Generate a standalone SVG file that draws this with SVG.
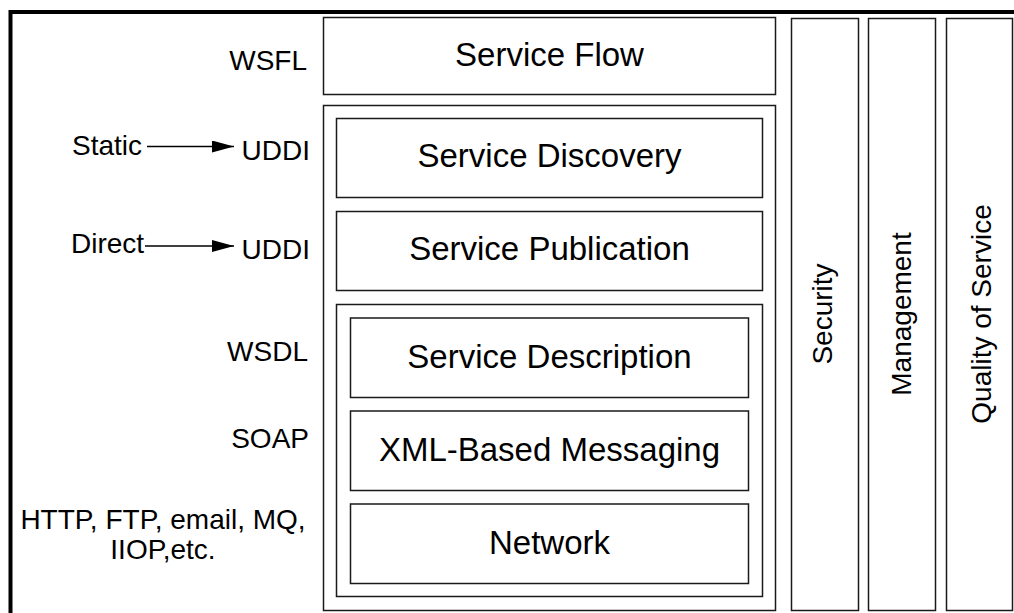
<svg xmlns="http://www.w3.org/2000/svg" width="1014" height="613" viewBox="0 0 1014 613">
<style>
text{font-family:"Liberation Sans",Arial,sans-serif;fill:#000}
.box{fill:#fff;stroke:#1a1a1a;stroke-width:1.5}
.big{font-size:33px;text-anchor:middle}
.lbl{font-size:28px}
.end{text-anchor:end}
.mid{text-anchor:middle}
.conn{stroke:#000;stroke-width:1.5;fill:none}
</style>
<defs>
<marker id="ah" markerWidth="22" markerHeight="12" refX="22" refY="6" orient="auto" markerUnits="userSpaceOnUse">
<path d="M0,0 L22,6 L0,12 Z" fill="#000"/>
</marker>
</defs>
<rect x="10.5" y="12" width="1012" height="612" fill="#fff" stroke="#000" stroke-width="4"/>
<g id="service-flow"><rect class="box" x="323.5" y="17.5" width="452" height="77"/><text class="big" x="549.5" y="66">Service Flow</text></g>
<g id="uddi-stack"><rect class="box" x="323.5" y="105.5" width="452" height="505"/></g>
<g id="service-discovery"><rect class="box" x="336.5" y="118.5" width="426" height="79"/><text class="big" x="549.5" y="167">Service Discovery</text></g>
<g id="service-publication"><rect class="box" x="336.5" y="211.5" width="426" height="79"/><text class="big" x="549.5" y="260">Service Publication</text></g>
<g id="wsdl-stack"><rect class="box" x="336.5" y="304.5" width="426" height="292"/></g>
<g id="service-description"><rect class="box" x="350.5" y="318" width="398" height="79.5"/><text class="big" x="549.5" y="368">Service Description</text></g>
<g id="xml-messaging"><rect class="box" x="350.5" y="411" width="398" height="79.5"/><text class="big" x="549.5" y="461">XML-Based Messaging</text></g>
<g id="network"><rect class="box" x="350.5" y="504" width="398" height="79.5"/><text class="big" x="549.5" y="554">Network</text></g>
<g id="security"><rect class="box" x="791.5" y="18.5" width="67" height="592"/><text class="lbl mid" x="832" y="314" transform="rotate(-90 832 314)">Security</text></g>
<g id="management"><rect class="box" x="868.5" y="18.5" width="67" height="592"/><text class="lbl mid" x="911" y="314" transform="rotate(-90 911 314)">Management</text></g>
<g id="qos"><rect class="box" x="946.5" y="18.5" width="66" height="592"/><text class="lbl mid" x="991" y="314" transform="rotate(-90 991 314)">Quality of Service</text></g>
<g id="lbl-wsfl"><text class="lbl end" x="307" y="70">WSFL</text></g>
<g id="lbl-static"><text class="lbl" x="72" y="155">Static</text></g>
<g id="lbl-uddi1"><text class="lbl end" x="310" y="160">UDDI</text></g>
<g id="lbl-direct"><text class="lbl" x="71" y="253">Direct</text></g>
<g id="lbl-uddi2"><text class="lbl end" x="310" y="259">UDDI</text></g>
<g id="lbl-wsdl"><text class="lbl end" x="308" y="361">WSDL</text></g>
<g id="lbl-soap"><text class="lbl end" x="309" y="448">SOAP</text></g>
<g id="lbl-http"><text class="lbl mid" x="163" y="529">HTTP, FTP, email, MQ,</text><text class="lbl mid" x="163" y="559">IIOP,etc.</text></g>
<g id="connectors">
<line class="conn" x1="147" y1="146.5" x2="234" y2="146.5" marker-end="url(#ah)"/>
<line class="conn" x1="145" y1="246" x2="234" y2="246" marker-end="url(#ah)"/>
</g>
</svg>
